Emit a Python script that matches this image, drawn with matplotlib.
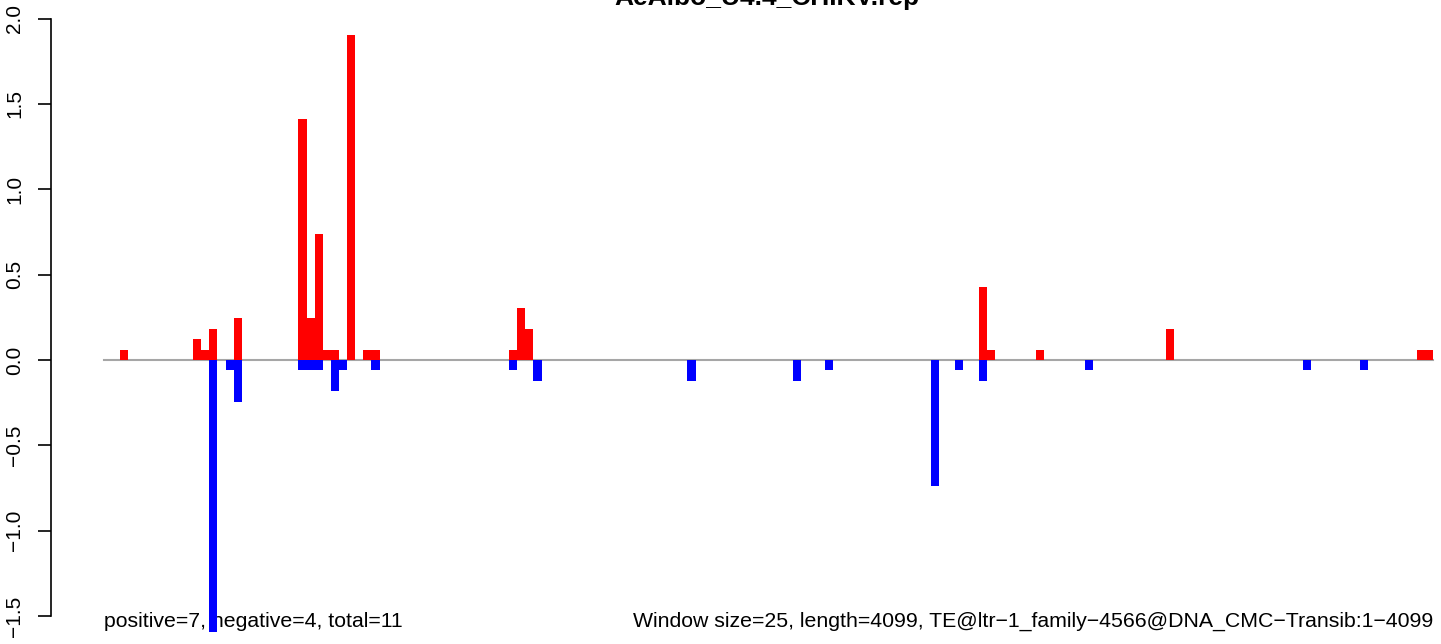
"""plot.py: windowed positive/negative coverage barplot for AeAlbo_U4.4_CHIKV.rep"""
import matplotlib
matplotlib.use("Agg")
import matplotlib.pyplot as plt
import matplotlib.transforms as mtransforms

W, H, DPI = 1441, 644, 100
FONT = "Liberation Sans"
FONT_SIZE = 15.3
TICK_SIZE = 15
TITLE_SIZE = 19

TITLE = "AeAlbo_U4.4_CHIKV.rep"
LEFT_NOTE = "positive=7, negative=4, total=11"
RIGHT_NOTE = "Window size=25, length=4099, TE@ltr\u22121_family\u22124566@DNA_CMC\u2212Transib:1\u22124099"
N_BINS = 164  # ceil(4099 / 25)

# window index -> value
pos_bins = [2, 11, 12, 13, 16, 24, 25, 26, 27, 28, 30, 32, 33,
            50, 51, 52, 108, 109, 115, 131, 162, 163]
pos_vals = [0.061, 0.123, 0.061, 0.184, 0.246, 1.412, 0.246, 0.737, 0.061, 0.061, 1.904, 0.061, 0.061,
            0.061, 0.307, 0.184, 0.430, 0.061, 0.061, 0.184, 0.061, 0.061]

neg_bins = [13, 15, 16, 24, 25, 26, 28, 29, 33, 50, 53, 72, 85, 89,
            102, 105, 108, 121, 148, 155]
neg_vals = [-1.596, -0.061, -0.246, -0.061, -0.061, -0.061, -0.184, -0.061, -0.061, -0.061, -0.123,
            -0.123, -0.123, -0.061, -0.737, -0.061, -0.123, -0.061, -0.061, -0.061]

y_ticks = [-1.5, -1.0, -0.5, 0.0, 0.5, 1.0, 1.5, 2.0]

plt.rcParams["font.family"] = [FONT, "DejaVu Sans"]

fig = plt.figure(figsize=(W / DPI, H / DPI), dpi=DPI)

# plot region as R lays it out: 4% padding on each side of the bins,
# right side runs off the picture
pad = N_BINS * 0.04
px_per_bin = (1433 - 104) / N_BINS
left_px = 104 - pad * px_per_bin
width_px = (N_BINS + 2 * pad) * px_per_bin
ax = fig.add_axes([left_px / W, 0, width_px / W, 1])
ax.set_xlim(-pad, N_BINS + pad)

unit = 170.7  # pixels per y unit
zero_px = 360
ax.set_ylim(-(H - zero_px) / unit, zero_px / unit)

ax.plot([0, N_BINS], [0, 0], color="#a6a6a6", linewidth=1.5, zorder=1)
ax.bar(pos_bins, pos_vals, width=1, align="edge", color="red", linewidth=0, zorder=2)
ax.bar(neg_bins, neg_vals, width=1, align="edge", color="blue", linewidth=0, zorder=2)

for side in ["top", "right", "bottom"]:
    ax.spines[side].set_visible(False)
ax.spines["left"].set_bounds(-1.5, 2.0)
ax.spines["left"].set_linewidth(1.2)
ax.set_xticks([])
ax.set_yticks(y_ticks)
ax.set_yticklabels(["{:.1f}".format(t).replace("-", "\u2212") for t in y_ticks],
                   rotation=90, va="center", fontsize=TICK_SIZE)
ax.tick_params(axis="y", length=9.4, width=1.2, pad=10)

trans = mtransforms.blended_transform_factory(ax.transData, ax.transAxes)
note_y = 1 - 627 / H
ax.text(0, note_y, LEFT_NOTE, transform=trans, ha="left", va="baseline",
        fontsize=FONT_SIZE, zorder=1)
ax.text(N_BINS, note_y, RIGHT_NOTE, transform=trans, ha="right", va="baseline",
        fontsize=FONT_SIZE, zorder=1)

fig.text(767 / W, 1 - 5 / H, TITLE, ha="center", va="baseline",
         fontsize=TITLE_SIZE, fontweight="bold")

fig.savefig("out.png", dpi=DPI)
